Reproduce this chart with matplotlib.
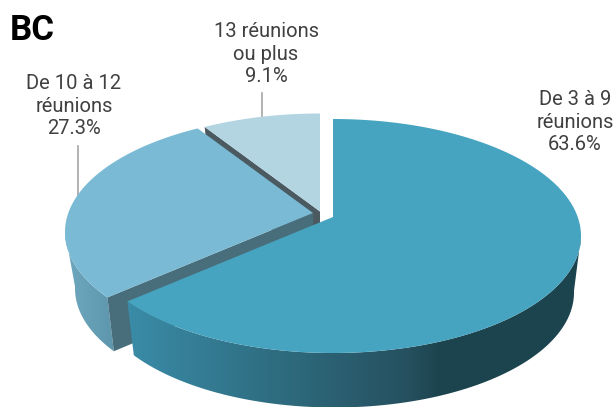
import numpy as np
import matplotlib
matplotlib.use('Agg')
import matplotlib.pyplot as plt
from matplotlib.colors import LinearSegmentedColormap
from matplotlib.patches import Polygon

# Data
labels = ['De 3 à 9\nréunions\n63.6%', 'De 10 à 12\nréunions\n27.3%', '13 réunions\nou plus\n9.1%']
values = [63.6, 27.3, 9.1]
title = 'BC'

top_colors = ['#46a4c0', '#7abad5', '#b3d4e1']
face_colors = [None, '#486e7b', '#4a5a60']

# Shape of the pie, in pixels
top_center = (333, 236)
top_radius = (248, 117)
top_tip = (333, 217)
bottom_center = (334.5, 292.5)
bottom_radius = (239.5, 115)
bottom_tip = (333, 272)
explode = [(0, 0), (-20, -4), (-13, -5.5)]

plt.rcParams['font.family'] = ['Roboto', 'DejaVu Sans']

main_cmap = LinearSegmentedColormap.from_list('main', [(0, '#3a8ba7'), (0.45, '#2f6e82'),
                                                       (0.9, '#26505f'), (1, '#1c444e')])
left_cmap = LinearSegmentedColormap.from_list('left', ['#6ea8bf', '#5f98ae'])


def rim(angles, tip, center, radius):
    # point of the ellipse seen from the (off center) tip at each pie angle
    dx = radius[0] * np.sin(angles)
    dy = -radius[1] * np.cos(angles)
    ox = (tip[0] - center[0]) / radius[0]
    oy = (tip[1] - center[1]) / radius[1]
    a = (dx / radius[0]) ** 2 + (dy / radius[1]) ** 2
    b = 2 * (ox * dx / radius[0] + oy * dy / radius[1])
    c = ox ** 2 + oy ** 2 - 1
    t = (-b + np.sqrt(b ** 2 - 4 * a * c)) / (2 * a)
    return tip[0] + t * dx, tip[1] + t * dy


def wall(ax, x1, y1, x2, y2, cmap, x_min, x_max):
    # gradient image over the whole width, clipped to the side of a slice
    xs = np.arange(615) + 0.5
    grad = np.clip((xs - x_min) / (x_max - x_min), 0, 1).reshape(1, -1)
    im = ax.imshow(grad, cmap=cmap, vmin=0, vmax=1, extent=[0, 615, 407, 0], aspect='auto', zorder=1)
    pts = np.c_[np.r_[x1, x2[::-1]], np.r_[y1, y2[::-1]]]
    clip = Polygon(pts, closed=True, transform=ax.transData, fill=False, lw=0)
    ax.add_patch(clip)
    im.set_clip_path(clip)


fig = plt.figure(figsize=(6.15, 4.07), dpi=100)
ax = fig.add_axes([0, 0, 1, 1])
ax.axis('off')

edges = np.concatenate([[0], np.cumsum(values)]) / sum(values) * 2 * np.pi

# back slices first so the front ones cover them
for i in [2, 1, 0]:
    ex, ey = explode[i]
    ang = np.linspace(edges[i], edges[i + 1], 400)
    tx, ty = rim(ang, top_tip, top_center, top_radius)
    bx, by = rim(ang, bottom_tip, bottom_center, bottom_radius)
    tx, ty, bx, by = tx + ex, ty + ey, bx + ex, by + ey
    tip_x, tip_y = top_tip[0] + ex, top_tip[1] + ey
    low_x, low_y = bottom_tip[0] + ex, bottom_tip[1] + ey

    if i == 0:
        # only the front of the rim shows
        k = np.argmax(tx)
        wall(ax, tx[k:], ty[k:], bx[k:], by[k:], main_cmap, 130, 440)
    if i == 1:
        k = np.argmin(tx)
        wall(ax, tx[:k + 1], ty[:k + 1], bx[:k + 1], by[:k + 1], left_cmap, 66, 110)
    if i > 0:
        ax.fill([tx[0], tip_x, low_x, bx[0]], [ty[0], tip_y, low_y, by[0]],
                color=face_colors[i], lw=0, zorder=1)

    ax.fill(np.r_[tip_x, tx], np.r_[tip_y, ty], color=top_colors[i], lw=0, zorder=1)

# leader lines
ax.plot([78, 78], [146, 198], color='#a6a6a6', lw=1.2, zorder=0)
ax.plot([262, 262], [93, 117], color='#a6a6a6', lw=1.2, zorder=0)

ax.set_xlim(0, 615)
ax.set_ylim(407, 0)

# text
txt = '#404040'
ax.text(575, 122, labels[0], ha='center', va='center', fontsize=14.5, color=txt, linespacing=1.26)
ax.text(74, 106, labels[1], ha='center', va='center', fontsize=14.5, color=txt, linespacing=1.26)
ax.text(266, 54, labels[2], ha='center', va='center', fontsize=14.5, color=txt, linespacing=1.26)
ax.text(10, 30, title, ha='left', va='center', fontsize=25, fontweight='bold', color='black')

fig.savefig('out.png', dpi=100)
